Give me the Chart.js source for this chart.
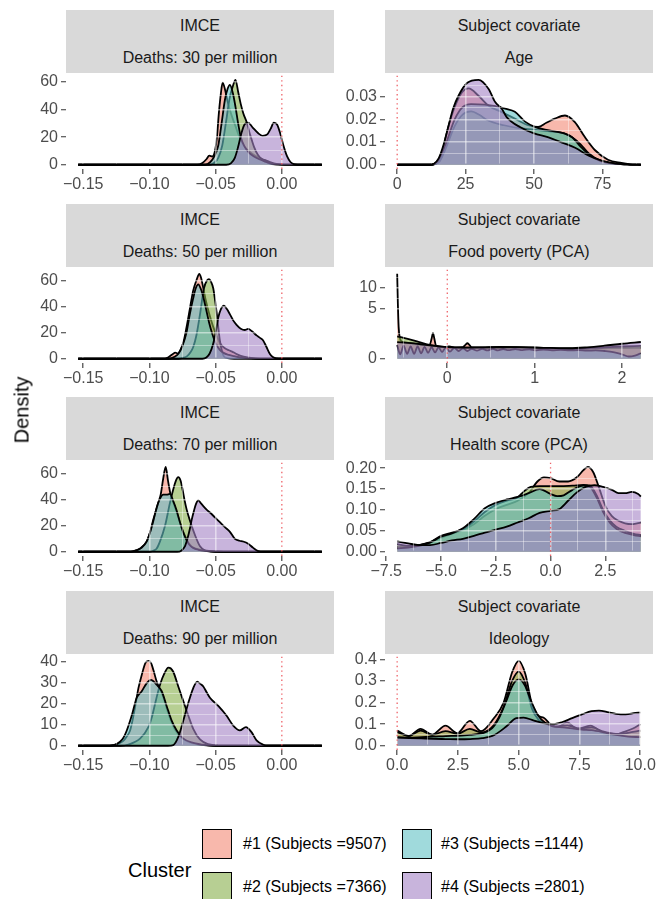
<!DOCTYPE html>
<html><head><meta charset="utf-8">
<script src="https://cdn.jsdelivr.net/npm/chart.js@4.4.1/dist/chart.umd.min.js"></script>
<style>
html,body{margin:0;padding:0;background:#fff;}
body{width:657px;height:899px;position:relative;overflow:hidden;font-family:"Liberation Sans",Arial,Helvetica,sans-serif;}
.strip{position:absolute;background:#d9d9d9;color:#1a1a1a;font-size:16px;text-align:center;width:268px;height:63px;}
.strip div{height:31.5px;line-height:31.5px;white-space:nowrap;}
canvas{position:absolute;}
.ytitle{position:absolute;left:22px;top:410px;transform:translate(-50%,-50%) rotate(-90deg);font-size:20px;color:#000;white-space:nowrap;}
.ltitle{position:absolute;left:128px;top:858px;font-size:20px;line-height:24px;color:#000;}
.key{position:absolute;width:30px;height:30px;box-sizing:border-box;border:1.7px solid #000;}
.ltext{position:absolute;font-size:16px;line-height:20px;color:#000;white-space:nowrap;}
</style></head>
<body>
<div id="root"></div>
<div class="ytitle">Density</div>
<div class="ltitle">Cluster</div>
<script>
// ---------------- DATA ----------------
const clusterLabels = ['#1 (Subjects =9507)', '#2 (Subjects =7366)', '#3 (Subjects =1144)', '#4 (Subjects =2801)'];

// IMCE, deaths 30 per million  [x, density]
const imce30_c1 = [[-0.1538,0],[-0.064,0],[-0.06,1.2],[-0.057,4],[-0.0548,6.6],[-0.0525,6],[-0.0505,10],[-0.049,20],[-0.0475,38],[-0.046,52],[-0.0447,59.5],[-0.043,55],[-0.041,46],[-0.038,36],[-0.035,28],[-0.032,20],[-0.029,14],[-0.025,10],[-0.021,7],[-0.017,5],[-0.013,3.5],[-0.009,2],[-0.004,0.6],[0.002,0.1],[0.0302,0]];
const imce30_c2 = [[-0.1538,0],[-0.055,0],[-0.051,1.5],[-0.048,5],[-0.045,14],[-0.042,32],[-0.0395,48],[-0.037,57],[-0.035,61.6],[-0.033,53],[-0.031,44],[-0.029,37],[-0.0266,31],[-0.024,22],[-0.021,13],[-0.018,7],[-0.014,3],[-0.01,1.2],[-0.005,0.3],[0.0302,0]];
const imce30_c3 = [[-0.1538,0],[-0.058,0],[-0.054,2],[-0.051,6],[-0.048,14],[-0.0455,30],[-0.043,47],[-0.041,55],[-0.0392,58],[-0.037,52],[-0.035,42],[-0.033,30],[-0.031,20],[-0.028,13],[-0.025,9],[-0.021,6],[-0.017,4],[-0.013,2.5],[-0.009,1.2],[-0.004,0.3],[0.0302,0]];
const imce30_c4 = [[-0.1538,0],[-0.042,0],[-0.0385,1],[-0.0355,5],[-0.033,13],[-0.0305,23],[-0.028,29.5],[-0.0255,30.5],[-0.022,27],[-0.018,23],[-0.0145,21],[-0.011,22],[-0.0085,26],[-0.006,30.5],[-0.0035,29],[-0.001,22],[0.0015,13],[0.004,6],[0.0065,2],[0.009,0.4],[0.012,0],[0.0302,0]];

// IMCE, deaths 50 per million
const imce50_c1 = [[-0.1538,0],[-0.09,0],[-0.086,1],[-0.0825,3.5],[-0.0805,4.7],[-0.0785,4],[-0.076,8],[-0.074,14],[-0.072,24],[-0.0695,38],[-0.067,52],[-0.0645,60],[-0.0623,65],[-0.061,62],[-0.0595,55],[-0.0575,45],[-0.055,35],[-0.052,25],[-0.049,17],[-0.046,11],[-0.043,8],[-0.04,6.5],[-0.0375,5.5],[-0.035,4],[-0.031,2.2],[-0.026,1],[-0.02,0.3],[-0.012,0],[0.0302,0]];
const imce50_c2 = [[-0.1538,0],[-0.078,0],[-0.074,0.8],[-0.0715,2],[-0.069,5],[-0.0669,9],[-0.0645,18],[-0.0618,34],[-0.0588,54],[-0.0565,60],[-0.055,61],[-0.0535,59],[-0.0518,54],[-0.0493,36],[-0.0468,14],[-0.045,5],[-0.0437,1.7],[-0.041,0.5],[-0.036,0],[0.0302,0]];
const imce50_c3 = [[-0.1538,0],[-0.085,0],[-0.081,1.5],[-0.078,4],[-0.075,10],[-0.072,20],[-0.0695,34],[-0.067,46],[-0.065,54],[-0.0631,57],[-0.061,53],[-0.059,46],[-0.057,37],[-0.055,28],[-0.0525,19],[-0.05,12],[-0.047,7],[-0.044,4.5],[-0.04,3],[-0.036,2],[-0.03,0.8],[-0.022,0.2],[-0.015,0],[0.0302,0]];
const imce50_c4 = [[-0.1538,0],[-0.06,0],[-0.057,1],[-0.0545,4],[-0.052,11],[-0.05,20],[-0.048,31.5],[-0.046,38],[-0.0437,40.7],[-0.0415,38],[-0.0392,34],[-0.0365,29],[-0.0342,26],[-0.031,23],[-0.028,22],[-0.0255,22.8],[-0.0225,21],[-0.0191,17.9],[-0.0165,16],[-0.0141,14],[-0.0116,9],[-0.009,3.7],[-0.0065,1.2],[-0.004,0.3],[0,0],[0.0302,0]];

// IMCE, deaths 70 per million
const imce70_c1 = [[-0.1538,0],[-0.116,0],[-0.112,0.5],[-0.107,2.5],[-0.102,8],[-0.0995,15],[-0.097,25],[-0.095,32],[-0.0933,38],[-0.0915,44],[-0.0895,57],[-0.0877,65.5],[-0.086,55],[-0.084,44],[-0.082,38],[-0.08,32],[-0.078,26],[-0.0755,18],[-0.073,12],[-0.0705,7],[-0.068,4],[-0.065,2.5],[-0.061,1.5],[-0.055,0.7],[-0.048,0.2],[-0.04,0],[0.0302,0]];
const imce70_c2 = [[-0.1538,0],[-0.1,0],[-0.097,0.8],[-0.0945,2.5],[-0.092,8],[-0.0882,20],[-0.0845,37.7],[-0.0815,50],[-0.0795,56],[-0.0782,57.5],[-0.0765,55],[-0.0749,47.6],[-0.0735,40],[-0.0719,32.7],[-0.0694,24],[-0.0656,12.9],[-0.0618,4.2],[-0.058,1],[-0.054,0.2],[-0.048,0],[0.0302,0]];
const imce70_c3 = [[-0.1538,0],[-0.114,0],[-0.11,1],[-0.106,3],[-0.102,8],[-0.0995,15],[-0.097,24],[-0.0945,34],[-0.092,41],[-0.0895,44],[-0.087,44],[-0.0845,44.6],[-0.082,39],[-0.0795,32],[-0.077,23],[-0.0745,15],[-0.072,9],[-0.0695,5],[-0.067,3],[-0.063,1.5],[-0.058,0.6],[-0.05,0],[0.0302,0]];
const imce70_c4 = [[-0.1538,0],[-0.079,0],[-0.076,0.8],[-0.0732,4.2],[-0.0713,10],[-0.0694,17.9],[-0.068,25],[-0.0664,31.5],[-0.0648,37],[-0.0631,39.7],[-0.0612,37.5],[-0.0593,35.2],[-0.0568,32.5],[-0.0543,30.3],[-0.0505,26.5],[-0.0468,22.8],[-0.043,19],[-0.0392,15.4],[-0.0354,9.9],[-0.032,8.5],[-0.0292,7.9],[-0.0254,6.2],[-0.0216,3],[-0.0178,0.5],[-0.014,0],[0.0302,0]];

// IMCE, deaths 90 per million
const imce90_c1 = [[-0.1538,0],[-0.13,0],[-0.1272,0.3],[-0.1235,1],[-0.1197,2.3],[-0.117,4.5],[-0.1146,7.3],[-0.1128,12],[-0.1109,18.2],[-0.1083,27.5],[-0.1058,33.8],[-0.1028,39.7],[-0.1003,40.5],[-0.0985,39],[-0.097,36.1],[-0.0945,30.6],[-0.0925,27.5],[-0.09,24],[-0.0875,19],[-0.085,14],[-0.0825,10],[-0.08,7],[-0.077,4.5],[-0.073,2.5],[-0.068,1.2],[-0.062,0.5],[-0.055,0.1],[-0.048,0],[0.0302,0]];
const imce90_c2 = [[-0.1538,0],[-0.122,0],[-0.1159,0.6],[-0.1071,3.4],[-0.1008,8.9],[-0.098,14],[-0.0958,19.8],[-0.094,24.5],[-0.092,29.1],[-0.0887,34.5],[-0.0857,37.3],[-0.084,37],[-0.082,35.3],[-0.0782,28.3],[-0.0744,21.3],[-0.0706,14.3],[-0.0669,8.1],[-0.0618,3],[-0.0556,0.8],[-0.048,0.1],[-0.04,0],[0.0302,0]];
const imce90_c3 = [[-0.1538,0],[-0.132,0],[-0.1272,0.2],[-0.1222,1.9],[-0.1195,4],[-0.1171,7.3],[-0.1134,14.3],[-0.1096,22.9],[-0.1058,26],[-0.102,29.9],[-0.0988,31.4],[-0.0965,30.5],[-0.0945,29.1],[-0.0907,26],[-0.087,19],[-0.0832,12],[-0.0794,7.3],[-0.0744,3.4],[-0.0669,1.4],[-0.0568,0.3],[-0.05,0],[0.0302,0]];
const imce90_c4 = [[-0.1538,0],[-0.086,0],[-0.082,0.3],[-0.0782,4.2],[-0.0744,12],[-0.0706,20.5],[-0.0669,27.5],[-0.0639,30.6],[-0.0615,29.5],[-0.0593,28.3],[-0.0568,25.5],[-0.0543,22.9],[-0.048,19],[-0.0417,14.3],[-0.0367,9.6],[-0.0317,7.3],[-0.0271,8.9],[-0.0229,6.5],[-0.0191,2.6],[-0.0141,0.5],[-0.01,0],[0.0302,0]];

// Subject covariate: Age
const age_c1 = [[0,0],[12,0],[14,0.0005],[16,0.003],[17.6,0.0116],[19.5,0.02],[21.2,0.026],[23.7,0.032],[26.1,0.0336],[29.7,0.0304],[33.4,0.026],[38.2,0.0232],[43,0.0203],[47.9,0.0174],[51.5,0.0167],[54.5,0.0185],[57.6,0.0203],[61.3,0.0217],[64.9,0.0188],[68.5,0.0123],[72.2,0.0065],[77,0.0022],[81.9,0.0008],[86,0.0001],[89,0]];
const age_c2 = [[0,0],[12,0],[14,0.0004],[15.5,0.0015],[18,0.008],[21,0.017],[24,0.0222],[27,0.0235],[30,0.022],[33,0.0196],[39,0.0174],[45,0.016],[50,0.0155],[55,0.0148],[61,0.0138],[64,0.012],[67,0.009],[70,0.005],[74,0.002],[80,0.0005],[85,0.0001],[89,0]];
const age_c3 = [[0,0],[12,0],[13.5,0.0004],[15,0.002],[18,0.01],[21,0.02],[24,0.0255],[27,0.0267],[32,0.0265],[36,0.0258],[39.4,0.0247],[43,0.0233],[46.7,0.019],[50.3,0.0167],[55,0.0152],[61,0.0138],[64,0.012],[67,0.008],[70,0.0045],[74,0.0018],[80,0.0004],[85,0.0001],[89,0]];
const age_c4 = [[0,0],[12,0],[13.5,0.0005],[15.2,0.0029],[17,0.009],[18.8,0.0174],[20.5,0.025],[22.4,0.0304],[25.5,0.036],[29.7,0.0374],[33.4,0.0334],[35.8,0.0276],[38.2,0.0247],[40,0.021],[45,0.0165],[50,0.0138],[55,0.0122],[61,0.0094],[65,0.0075],[70,0.004],[75,0.0017],[80,0.0005],[85,0.0001],[89,0]];

// Subject covariate: Food poverty (PCA)  (y axis is square-root scaled)
const food_c1 = [[-0.574,14.4],[-0.566,6],[-0.557,2],[-0.545,0.9],[-0.52,0.6],[-0.45,0.5],[-0.35,0.42],[-0.25,0.36],[-0.2,0.4],[-0.18,0.8],[-0.164,1.3],[-0.148,0.8],[-0.13,0.35],[-0.05,0.27],[0.02,0.3],[0.1,0.25],[0.18,0.27],[0.21,0.4],[0.23,0.48],[0.25,0.4],[0.28,0.26],[0.4,0.24],[0.6,0.25],[0.8,0.24],[1.0,0.22],[1.2,0.21],[1.4,0.2],[1.6,0.21],[1.8,0.22],[2.0,0.23],[2.217,0.24]];
const food_c2 = [[-0.574,1.0],[-0.5,0.88],[-0.4,0.7],[-0.3,0.52],[-0.2,0.38],[-0.1,0.3],[0,0.26],[0.2,0.25],[0.4,0.26],[0.6,0.28],[0.8,0.27],[1.0,0.25],[1.2,0.22],[1.4,0.2],[1.6,0.22],[1.8,0.26],[2.0,0.3],[2.217,0.33]];
const food_c3 = [[-0.574,0.38],[-0.54,0.04],[-0.5,0.34],[-0.46,0.05],[-0.42,0.3],[-0.38,0.05],[-0.34,0.3],[-0.3,0.06],[-0.26,0.28],[-0.22,0.07],[-0.18,0.27],[-0.14,0.08],[-0.1,0.26],[-0.06,0.09],[-0.02,0.25],[0.03,0.1],[0.08,0.24],[0.13,0.12],[0.18,0.22],[0.23,0.12],[0.28,0.2],[0.34,0.13],[0.4,0.2],[0.46,0.14],[0.52,0.2],[0.58,0.14],[0.64,0.19],[0.7,0.15],[0.78,0.19],[0.86,0.15],[0.94,0.18],[1.02,0.14],[1.1,0.17],[1.2,0.14],[1.3,0.16],[1.4,0.14],[1.5,0.15],[1.6,0.13],[1.7,0.14],[1.8,0.12],[1.9,0.09],[2.0,0.04],[2.08,0.01],[2.15,0.02],[2.217,0.06]];
const food_c4 = [[-0.574,0.55],[-0.45,0.5],[-0.3,0.42],[-0.15,0.33],[0,0.27],[0.2,0.25],[0.5,0.26],[0.8,0.27],[1.1,0.24],[1.4,0.22],[1.6,0.26],[1.8,0.34],[2.0,0.45],[2.217,0.56]];

// Subject covariate: Health score (PCA)
const health_c1 = [[-7.0,0.012],[-6.5,0.012],[-6.0,0.016],[-5.5,0.022],[-5.0,0.033],[-4.5,0.043],[-4.0,0.052],[-3.5,0.066],[-3.0,0.086],[-2.5,0.102],[-2.0,0.112],[-1.5,0.122],[-1.0,0.14],[-0.6,0.168],[-0.3,0.178],[0.0,0.176],[0.4,0.168],[0.8,0.168],[1.2,0.178],[1.5,0.195],[1.7,0.203],[1.95,0.19],[2.2,0.155],[2.5,0.11],[2.8,0.085],[3.1,0.074],[3.4,0.068],[3.7,0.066],[3.95,0.068],[4.12,0.07]];
const health_c2 = [[-7.0,0.018],[-6.5,0.014],[-6.0,0.016],[-5.5,0.023],[-5.0,0.038],[-4.5,0.046],[-4.0,0.054],[-3.5,0.072],[-3.0,0.095],[-2.5,0.112],[-2.0,0.122],[-1.5,0.13],[-1.2,0.145],[-0.9,0.155],[-0.5,0.157],[0,0.157],[0.5,0.157],[1.0,0.158],[1.5,0.16],[1.8,0.158],[2.1,0.135],[2.4,0.1],[2.7,0.075],[3.0,0.06],[3.4,0.05],[3.8,0.043],[4.12,0.04]];
const health_c3 = [[-7.0,0.008],[-6.5,0.01],[-6.0,0.014],[-5.5,0.022],[-5.0,0.036],[-4.5,0.044],[-4.0,0.056],[-3.5,0.078],[-3.0,0.104],[-2.5,0.117],[-2.0,0.125],[-1.5,0.131],[-1.0,0.14],[-0.5,0.15],[0,0.138],[0.3,0.133],[0.6,0.135],[1.0,0.148],[1.5,0.158],[1.8,0.155],[2.1,0.13],[2.4,0.095],[2.7,0.07],[3.0,0.055],[3.4,0.045],[3.8,0.04],[4.12,0.037]];
const health_c4 = [[-7.0,0.025],[-6.5,0.02],[-6.0,0.016],[-5.5,0.016],[-5.0,0.021],[-4.5,0.027],[-4.0,0.031],[-3.5,0.038],[-3.0,0.046],[-2.5,0.053],[-2.0,0.06],[-1.5,0.07],[-1.0,0.08],[-0.5,0.093],[0,0.098],[0.4,0.102],[0.8,0.122],[1.2,0.142],[1.6,0.155],[2.0,0.159],[2.4,0.155],[2.8,0.148],[3.1,0.14],[3.4,0.14],[3.7,0.143],[4.0,0.138],[4.12,0.132]];

// Subject covariate: Ideology
const ideo_c1 = [[0,0.07],[0.48,0.045],[0.96,0.078],[1.44,0.051],[1.99,0.093],[2.47,0.0585],[2.99,0.1155],[3.45,0.0675],[3.97,0.126],[4.38,0.2],[4.73,0.34],[5.0,0.393],[5.27,0.333],[5.55,0.19],[5.82,0.138],[6.03,0.13],[6.3,0.1],[6.58,0.085],[6.99,0.108],[7.4,0.078],[7.95,0.093],[8.5,0.055],[8.9,0.048],[9.3,0.063],[9.7,0.08],[10,0.1]];
const ideo_c2 = [[0,0.063],[0.48,0.045],[0.96,0.07],[1.44,0.05],[1.99,0.068],[2.47,0.055],[2.99,0.078],[3.45,0.062],[3.97,0.095],[4.38,0.18],[4.73,0.3],[5.0,0.343],[5.27,0.29],[5.55,0.17],[5.82,0.12],[6.1,0.105],[6.5,0.09],[7.0,0.095],[7.5,0.08],[8.0,0.085],[8.5,0.065],[9.0,0.055],[9.5,0.06],[10,0.07]];
const ideo_c3 = [[0,0.04],[0.5,0.038],[1.0,0.04],[1.5,0.042],[2.0,0.045],[2.5,0.046],[3.0,0.05],[3.5,0.058],[3.9,0.08],[4.2,0.13],[4.5,0.21],[4.75,0.28],[5.0,0.307],[5.25,0.28],[5.5,0.21],[5.8,0.14],[6.1,0.105],[6.4,0.09],[6.8,0.085],[7.2,0.08],[7.6,0.075],[8.0,0.072],[8.5,0.062],[9.0,0.05],[9.5,0.042],[10,0.04]];
const ideo_c4 = [[0,0.038],[0.5,0.036],[1.0,0.034],[1.5,0.032],[2.0,0.031],[2.5,0.03],[3.0,0.031],[3.5,0.035],[4.0,0.05],[4.5,0.09],[4.9,0.128],[5.2,0.13],[5.6,0.118],[6.0,0.105],[6.4,0.1],[6.8,0.11],[7.2,0.128],[7.6,0.145],[8.0,0.16],[8.3,0.163],[8.7,0.155],[9.0,0.148],[9.4,0.145],[9.8,0.152],[10,0.153]];

// Tick values and labels
const imceXTicks = [-0.15, -0.10, -0.05, 0.00];
const imceXLabels = ['\u22120.15', '\u22120.10', '\u22120.05', '0.00'];
const imceYTicks = [0, 20, 40, 60];
const imceYLabels = ['0', '20', '40', '60'];
const imce90YTicks = [0, 10, 20, 30, 40];
const imce90YLabels = ['0', '10', '20', '30', '40'];
const ageXTicks = [0, 25, 50, 75];
const ageXLabels = ['0', '25', '50', '75'];
const ageYTicks = [0, 0.01, 0.02, 0.03];
const ageYLabels = ['0.00', '0.01', '0.02', '0.03'];
const foodXTicks = [0, 1, 2];
const foodXLabels = ['0', '1', '2'];
const foodYTicks = [0, 5, 10];
const foodYLabels = ['0', '5', '10'];
const healthXTicks = [-7.5, -5, -2.5, 0, 2.5];
const healthXLabels = ['\u22127.5', '\u22125.0', '\u22122.5', '0.0', '2.5'];
const healthYTicks = [0, 0.05, 0.10, 0.15, 0.20];
const healthYLabels = ['0.00', '0.05', '0.10', '0.15', '0.20'];
const ideoXTicks = [0, 2.5, 5, 7.5, 10];
const ideoXLabels = ['0.0', '2.5', '5.0', '7.5', '10.0'];
const ideoYTicks = [0, 0.1, 0.2, 0.3, 0.4];
const ideoYLabels = ['0.0', '0.1', '0.2', '0.3', '0.4'];

// ---------------- STYLE / LAYOUT ----------------
const FONT = '"Liberation Sans", Arial, Helvetica, sans-serif';
const FILLS = ['rgba(243,137,117,0.6)', 'rgba(135,175,75,0.6)', 'rgba(97,193,197,0.6)', 'rgba(163,130,197,0.6)'];
const COLS = [{canvasLeft: 0, canvasWidth: 338, axisW: 66, stripLeft: 66}, {canvasLeft: 340, canvasWidth: 317, axisW: 45, stripLeft: 385}];
const STRIP_TOPS = [10, 204, 397, 591];
const STRIP_H = 63, PANEL_H = 96, PAD_TOP = 10, XAXIS_H = 32, PAD_RIGHT = 4;

const panels = [
  {col: 0, row: 0, strip: ['IMCE', 'Deaths: 30 per million'], series: [imce30_c1, imce30_c2, imce30_c3, imce30_c4], xt: imceXTicks, xl: imceXLabels, yt: imceYTicks, yl: imceYLabels},
  {col: 1, row: 0, strip: ['Subject covariate', 'Age'], series: [age_c1, age_c2, age_c3, age_c4], xt: ageXTicks, xl: ageXLabels, yt: ageYTicks, yl: ageYLabels},
  {col: 0, row: 1, strip: ['IMCE', 'Deaths: 50 per million'], series: [imce50_c1, imce50_c2, imce50_c3, imce50_c4], xt: imceXTicks, xl: imceXLabels, yt: imceYTicks, yl: imceYLabels},
  {col: 1, row: 1, strip: ['Subject covariate', 'Food poverty (PCA)'], series: [food_c1, food_c2, food_c3, food_c4], xt: foodXTicks, xl: foodXLabels, yt: foodYTicks, yl: foodYLabels, sqrt: true},
  {col: 0, row: 2, strip: ['IMCE', 'Deaths: 70 per million'], series: [imce70_c1, imce70_c2, imce70_c3, imce70_c4], xt: imceXTicks, xl: imceXLabels, yt: imceYTicks, yl: imceYLabels},
  {col: 1, row: 2, strip: ['Subject covariate', 'Health score (PCA)'], series: [health_c1, health_c2, health_c3, health_c4], xt: healthXTicks, xl: healthXLabels, yt: healthYTicks, yl: healthYLabels},
  {col: 0, row: 3, strip: ['IMCE', 'Deaths: 90 per million'], series: [imce90_c1, imce90_c2, imce90_c3, imce90_c4], xt: imceXTicks, xl: imceXLabels, yt: imce90YTicks, yl: imce90YLabels},
  {col: 1, row: 3, strip: ['Subject covariate', 'Ideology'], series: [ideo_c1, ideo_c2, ideo_c3, ideo_c4], xt: ideoXTicks, xl: ideoXLabels, yt: ideoYTicks, yl: ideoYLabels},
];

// square-root y scale (like ggplot scale_y_sqrt); min/max are given in sqrt space
class SqrtScale extends Chart.LinearScale {
  static id = 'sqrtLinear';
  static defaults = Chart.LinearScale.defaults;
  getPixelForValue(v) { return super.getPixelForValue(Math.sqrt(Math.max(0, v))); }
  getValueForPixel(p) { const s = super.getValueForPixel(p); return s * s; }
}
Chart.register(SqrtScale);

// dotted reference line at x = 0, drawn last
const zeroLine = {
  id: 'zeroLine',
  afterDraw(chart) {
    const {ctx, chartArea: a, scales: {x}} = chart;
    const px = x.getPixelForValue(0);
    ctx.save();
    ctx.beginPath(); ctx.rect(a.left, a.top, a.width, a.height); ctx.clip();
    ctx.strokeStyle = 'rgba(236,80,86,0.9)';
    ctx.lineWidth = 1.3;
    ctx.setLineDash([1.4, 3.2]);
    ctx.beginPath(); ctx.moveTo(px, a.top); ctx.lineTo(px, a.bottom); ctx.stroke();
    ctx.restore();
  }
};

// keep the (on-top) white grid off the black zero baseline
const gridClip = {
  id: 'gridClip',
  beforeDraw(chart) {
    ['x', 'y'].forEach(id => {
      const sc = chart.scales[id];
      if (!sc || sc._clipPatched) return;
      const orig = sc.drawGrid;
      sc.drawGrid = function (area) {
        const c = this.ctx, y0 = chart.scales.y.getPixelForValue(0), a = chart.chartArea;
        c.save();
        c.beginPath();
        c.rect(0, 0, chart.width, y0 - 1.3);
        c.rect(0, y0 + 1.3, chart.width, chart.height);
        c.rect(0, y0 - 1.3, a.left, 2.6);
        c.clip();
        orig.call(this, area);
        c.restore();
      };
      sc._clipPatched = true;
    });
  }
};

function buildTicks(majors, min, max, sqrt) {
  const f = sqrt ? Math.sqrt : (v => v), g = sqrt ? (v => v * v) : (v => v);
  const t = majors.map(f);
  const out = t.map(v => ({v, maj: true}));
  for (let i = 0; i < t.length - 1; i++) out.push({v: (t[i] + t[i + 1]) / 2, maj: false});
  out.push({v: t[0] - (t[1] - t[0]) / 2, maj: false});
  out.push({v: t[t.length - 1] + (t[t.length - 1] - t[t.length - 2]) / 2, maj: false});
  return out.filter(o => o.v >= min - 1e-12 && o.v <= max + 1e-12)
            .sort((a, b) => a.v - b.v)
            .map(o => ({value: g(o.v), isMaj: o.maj}));
}

function labelFor(v, majors, labels) {
  for (let i = 0; i < majors.length; i++) if (Math.abs(majors[i] - v) < 1e-9) return labels[i];
  return '';
}

Chart.defaults.font.family = FONT;
Chart.defaults.font.size = 16;

const root = document.getElementById('root');
panels.forEach((p, k) => {
  const col = COLS[p.col];
  const stripTop = STRIP_TOPS[p.row];
  const s = document.createElement('div');
  s.className = 'strip';
  s.style.left = col.stripLeft + 'px';
  s.style.top = stripTop + 'px';
  s.innerHTML = '<div>' + p.strip[0] + '</div><div>' + p.strip[1] + '</div>';
  root.appendChild(s);
  const cv = document.createElement('canvas');
  const H = PAD_TOP + PANEL_H + XAXIS_H;
  cv.width = col.canvasWidth; cv.height = H;
  cv.style.left = col.canvasLeft + 'px';
  cv.style.top = (stripTop + STRIP_H - PAD_TOP) + 'px';
  cv.style.width = col.canvasWidth + 'px'; cv.style.height = H + 'px';
  root.appendChild(cv);

  const xs = p.series.flat().map(d => d[0]);
  const lo = Math.min(...xs), hi = Math.max(...xs);
  const xMin = lo - 0.05 * (hi - lo), xMax = hi + 0.05 * (hi - lo);
  let yTop = Math.max(...p.series.flat().map(d => d[1]));
  if (p.sqrt) yTop = Math.sqrt(yTop);
  const yMin = -0.05 * yTop, yMax = 1.05 * yTop;

  const gridOpts = {
    z: 1,
    color: 'rgba(255,255,255,0.5)',
    lineWidth: c => (c.tick && c.tick.isMaj) ? 1.6 : 0.8,
    tickColor: c => (c.tick && c.tick.isMaj) ? '#333333' : 'rgba(0,0,0,0)',
    tickWidth: 1.1,
    tickLength: 5,
    drawTicks: true,
  };

  new Chart(cv, {
    type: 'line',
    data: {
      datasets: p.series.map((d, i) => ({
        label: clusterLabels[i],
        data: d.map(([x, y]) => ({x, y})),
        fill: 'origin',
        backgroundColor: FILLS[i],
        borderColor: '#000000',
        borderWidth: 1.8,
        borderJoinStyle: 'round',
        pointRadius: 0,
        cubicInterpolationMode: 'monotone',
        order: 4 - i,
      }))
    },
    options: {
      responsive: false,
      animation: false,
      events: [],
      devicePixelRatio: 1,
      layout: {padding: {top: PAD_TOP, right: PAD_RIGHT, left: 0, bottom: 0}},
      plugins: {legend: {display: false}, tooltip: {enabled: false}, title: {display: false}},
      scales: {
        x: {
          type: 'linear', min: xMin, max: xMax, bounds: 'data',
          afterBuildTicks: sc => { sc.ticks = buildTicks(p.xt, xMin, xMax, false); },
          afterFit: sc => { sc.height = XAXIS_H; },
          ticks: {autoSkip: false, maxRotation: 0, minRotation: 0, padding: 1, color: '#4d4d4d',
                  font: {size: 16, family: FONT},
                  callback: v => labelFor(v, p.xt, p.xl)},
          grid: gridOpts,
          border: {display: false},
        },
        y: {
          type: p.sqrt ? 'sqrtLinear' : 'linear', min: yMin, max: yMax, bounds: 'data',
          afterBuildTicks: sc => { sc.ticks = buildTicks(p.yt, yMin, yMax, !!p.sqrt); },
          afterFit: sc => { sc.width = col.axisW; },
          ticks: {autoSkip: false, padding: 3, color: '#4d4d4d',
                  font: {size: 16, family: FONT},
                  callback: v => labelFor(v, p.yt, p.yl)},
          grid: gridOpts,
          border: {display: false},
        }
      }
    },
    plugins: [gridClip, zeroLine]
  });
});

// legend (HTML)
const legendPos = [{kx: 202, ky: 829, tx: 243}, {kx: 202, ky: 872, tx: 243}, {kx: 402, ky: 829, tx: 441}, {kx: 402, ky: 872, tx: 441}];
clusterLabels.forEach((lab, i) => {
  const k = document.createElement('div');
  k.className = 'key';
  k.style.left = legendPos[i].kx + 'px';
  k.style.top = legendPos[i].ky + 'px';
  k.style.background = FILLS[i];
  document.body.appendChild(k);
  const t = document.createElement('div');
  t.className = 'ltext';
  t.style.left = legendPos[i].tx + 'px';
  t.style.top = (legendPos[i].ky + 5) + 'px';
  t.textContent = lab;
  document.body.appendChild(t);
});
</script>
</body></html>
